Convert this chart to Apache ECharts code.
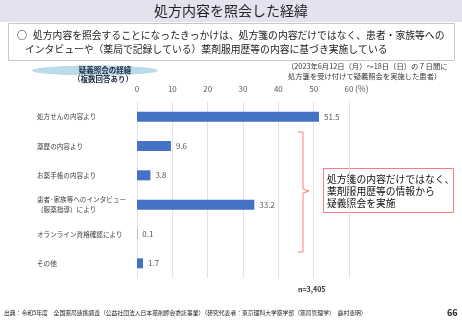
<!DOCTYPE html>
<html>
<head>
<meta charset="utf-8">
<script src="https://cdn.jsdelivr.net/npm/echarts@6/dist/echarts.min.js"></script>
<style>
html,body{margin:0;padding:0;background:#fff;}
#chart{width:462px;height:320px;}
</style>
</head>
<body>
<div id="chart"></div>
<script>
const categories = [
  '処方せんの内容より',
  '薬歴の内容より',
  'お薬手帳の内容より',
  '患者･家族等へのインタビュー\n（服薬指導）により',
  'オランライン資格確認により',
  'その他'
];
const values = [51.5, 9.6, 3.8, 33.2, 0.1, 1.7];
const tickValues = [0, 10, 20, 30, 40, 50, 60];

const FONT = '"Noto Sans CJK JP", "Noto Sans", sans-serif';
const chart = echarts.init(document.getElementById('chart'), null, {renderer: 'canvas'});

const option = {
  animation: false,
  textStyle: {fontFamily: FONT},
  grid: {left: 137, top: 102, width: 212, height: 176, containLabel: false},
  xAxis: {
    type: 'value', position: 'top',
    min: tickValues[0], max: tickValues[tickValues.length - 1], interval: 10,
    axisLine: {show: false}, axisTick: {show: false},
    axisLabel: {fontSize: 8, color: '#595959', margin: 9, fontFamily: FONT},
    splitLine: {show: true, lineStyle: {color: '#E3E3E3', width: 1}}
  },
  yAxis: {
    type: 'category', inverse: true, data: categories,
    axisLine: {show: true, lineStyle: {color: '#E3E3E3'}}, axisTick: {show: false},
    axisLabel: {align: 'left', margin: 100, fontSize: 6.6, lineHeight: 9.5, color: '#404040', fontFamily: FONT}
  },
  series: [{
    type: 'bar', data: values, barWidth: 10,
    itemStyle: {color: '#4472C4'},
    label: {show: true, position: 'right', distance: 5, fontSize: 8, color: '#595959', fontFamily: FONT}
  }],
  graphic: [
    {type: 'rect', shape: {x: 0, y: 0, width: 462, height: 22}, style: {fill: '#E4E2EF'}, silent: true},
    {type: 'text', x: 231, y: 11, style: {text: '処方内容を照会した経緯', fontSize: 14, fill: '#222', align: 'center', verticalAlign: 'middle', fontFamily: FONT}},
    {type: 'rect', shape: {x: 8.5, y: 23.5, width: 446, height: 37}, style: {fill: 'none', stroke: '#C8C8C8', lineWidth: 1}},
    {type: 'text', x: 17, y: 35, style: {text: '○', fontSize: 10, fill: '#222', verticalAlign: 'middle', fontFamily: FONT}},
    {type: 'text', x: 33, y: 35, style: {text: '処方内容を照会することになったきっかけは、処方箋の内容だけではなく、患者・家族等への', fontSize: 9.8, fill: '#222', verticalAlign: 'middle', fontFamily: FONT}},
    {type: 'text', x: 25, y: 49, style: {text: 'インタビューや（薬局で記録している）薬剤服用歴等の内容に基づき実施している', fontSize: 9.8, fill: '#222', verticalAlign: 'middle', fontFamily: FONT}},
    {type: 'ellipse', shape: {cx: 95, cy: 70.5, rx: 63, ry: 5}, style: {fill: '#B9DCE8'}},
    {type: 'text', x: 105, y: 70, style: {text: '疑義照会の経緯', fontSize: 7.5, fontWeight: 'bold', fill: '#1F2A44', align: 'center', verticalAlign: 'middle', fontFamily: FONT}},
    {type: 'text', x: 103, y: 79, style: {text: '（複数回答あり）', fontSize: 7.5, fontWeight: 'bold', fill: '#1F2A44', align: 'center', verticalAlign: 'middle', fontFamily: FONT}},
    {type: 'text', x: 287, y: 66, style: {text: '（2023年6月12日（月）～18日（日）の７日間に', fontSize: 7.3, fill: '#333', verticalAlign: 'middle', fontFamily: FONT}},
    {type: 'text', x: 288, y: 76, style: {text: '処方箋を受け付けて疑義照会を実施した患者）', fontSize: 7.3, fill: '#333', verticalAlign: 'middle', fontFamily: FONT}},
    {type: 'text', x: 355, y: 89, style: {text: '(%)', fontSize: 8.5, fill: '#595959', verticalAlign: 'middle', fontFamily: FONT}},
    {type: 'polyline', shape: {points: [[298, 132], [303, 132], [303, 189], [309, 191], [303, 193], [303, 252], [298, 252]]}, style: {fill: 'none', stroke: '#FF7C80', lineWidth: 1}},
    {type: 'rect', shape: {x: 323.5, y: 168.5, width: 130, height: 44}, style: {fill: '#fff', stroke: '#FF7C80', lineWidth: 1}},
    {type: 'text', x: 327, y: 179, style: {text: '処方箋の内容だけではなく、', fontSize: 9.8, fill: '#111', verticalAlign: 'middle', fontFamily: FONT}},
    {type: 'text', x: 327, y: 191, style: {text: '薬剤服用歴等の情報から', fontSize: 9.8, fill: '#111', verticalAlign: 'middle', fontFamily: FONT}},
    {type: 'text', x: 327, y: 203, style: {text: '疑義照会を実施', fontSize: 9.8, fill: '#111', verticalAlign: 'middle', fontFamily: FONT}},
    {type: 'text', x: 298, y: 289, style: {text: 'n=3,405', fontSize: 7, fontWeight: 'bold', fill: '#333', verticalAlign: 'middle', fontFamily: FONT}},
    {type: 'text', x: 4, y: 313, style: {text: '出典：令和5年度　全国薬局連携調査（公益社団法人日本薬剤師会委託事業）（研究代表者：東京理科大学薬学部（薬局管理学）　鹿村恵明）', fontSize: 5.8, fill: '#222', verticalAlign: 'middle', fontFamily: FONT}},
    {type: 'text', x: 447, y: 313, style: {text: '66', fontSize: 9, fontWeight: 'bold', fill: '#222', verticalAlign: 'middle', fontFamily: FONT}}
  ]
};
chart.setOption(option);
</script>
</body>
</html>
